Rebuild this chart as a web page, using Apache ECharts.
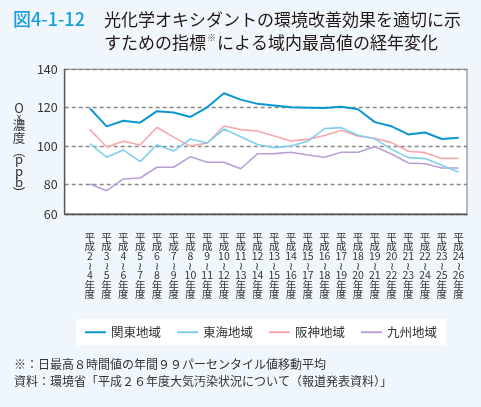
<!DOCTYPE html>
<html>
<head>
<meta charset="utf-8">
<script src="https://cdn.jsdelivr.net/npm/echarts@6/dist/echarts.min.js"></script>
<style>
html,body{margin:0;padding:0;background:#eff7fc;}
#c{width:481px;height:407px;}
</style>
</head>
<body>
<div id="c"></div>
<script>
// ---- data ----
const categories = ['平成2～4年度','平成3～5年度','平成4～6年度','平成5～7年度','平成6～8年度','平成7～9年度','平成8～10年度','平成9～11年度','平成10～12年度','平成11～13年度','平成12～14年度','平成13～15年度','平成14～16年度','平成15～17年度','平成16～18年度','平成17～19年度','平成18～20年度','平成19～21年度','平成20～22年度','平成21～23年度','平成22～24年度','平成23～25年度','平成24～26年度'];
const kanto   = [119.7,110.3,113.2,112.2,118.2,117.5,115.2,120.2,127.5,124.2,122.0,121.2,120.2,120.0,119.8,120.5,119.2,112.5,110.3,106.1,107.1,103.7,104.4];
const tokai   = [101.3,94.2,98.0,91.9,100.7,97.4,103.7,101.6,108.9,104.9,100.8,99.2,100.0,102.5,109.1,109.6,105.7,103.8,98.3,94.0,93.5,90.0,86.5];
const hanshin = [108.7,99.5,102.5,100.6,109.8,104.7,100.0,101.6,110.5,108.6,107.9,105.3,102.7,103.5,105.5,108.2,105.2,104.1,101.8,97.3,96.6,93.6,93.6];
const kyushu  = [80.3,76.8,82.9,83.4,89.0,89.0,94.5,91.6,91.6,88.2,96.0,96.1,96.8,95.4,94.2,96.8,96.8,99.7,95.9,91.2,90.8,88.6,88.6];
const seriesNames = ['関東地域','東海地域','阪神地域','九州地域'];
const yTicks = [60, 80, 100, 120, 140];

// ---- chart ----
const FONT = '"Noto Sans CJK JP","Noto Sans",sans-serif';
const chart = echarts.init(document.getElementById('c'), null, {renderer:'canvas'});
const xData = [''].concat(categories);
const pad = arr => ['-'].concat(arr);

function vLabel(s){
  const m = s.match(/平成(\d+)～(\d+)年度/);
  if(!m) return '';
  return ['平','成',m[1],'≀',m[2],'年','度'].join('\n');
}

const colors = ['#0a96cf','#7fd0ee','#f6a7ad','#b8a0d6'];
const widths = [2,1.6,1.6,1.6];
const datas = [kanto, tokai, hanshin, kyushu];

const yStack = [
  {t:'O', y:108.5, s:13},
  {t:'x', y:116.5, s:9},
  {t:'濃', y:125.5, s:12.5},
  {t:'度', y:138.5, s:12.5},
  {t:'︵', y:151, s:12.5},
  {t:'p', y:159, s:13},
  {t:'p', y:171, s:13},
  {t:'b', y:182, s:13},
  {t:'︶', y:193, s:12.5}
];

chart.setOption({
  backgroundColor: '#eff7fc',
  animation: false,
  textStyle: {fontFamily: FONT},
  grid: {left: 64.7, top: 69.3, right: 14, bottom: 193, show: true, backgroundColor: '#fff', borderColor: '#999', borderWidth: 1.3},
  legend: {
    left: 76, top: 319, padding: [7, 9, 7, 9],
    backgroundColor: '#fff',
    itemWidth: 21, itemHeight: 2, itemGap: 16,
    icon: 'rect',
    textStyle: {fontSize: 12.5, color: '#333', fontFamily: FONT, padding: [0,0,0,0]},
    data: seriesNames
  },
  xAxis: {
    type: 'category', data: xData, boundaryGap: true,
    axisLine: {lineStyle: {color: '#555', width: 1.3}},
    axisTick: {inside: true, length: 5, interval: 0, lineStyle: {color: '#555', width: 1}},
    axisLabel: {interval: 0, formatter: vLabel, fontSize: 10.5, lineHeight: 9.6, margin: 18, color: '#333', fontFamily: FONT},
    splitLine: {show: false}
  },
  yAxis: {
    type: 'value', min: 64.64, max: 140, minInterval: 20, maxInterval: 20,
    axisLine: {show: true, lineStyle: {color: '#555', width: 1.3}},
    axisTick: {show: false},
    axisLabel: {fontSize: 12.5, color: '#333', margin: 7, fontFamily: FONT,
      formatter: v => (v < yTicks[1] - 10 ? String(yTicks[0]) : String(v))},
    splitLine: {show: true, lineStyle: {color: '#888', type: [4,3], width: 1.3}}
  },
  series: seriesNames.map((n,i)=>({
    name: n, type: 'line', data: pad(datas[i]), symbol: 'none',
    lineStyle: {color: colors[i], width: widths[i]}, itemStyle: {color: colors[i]},
    z: 10 - i
  })),
  graphic: [
    {type:'text', left: 13, top: 10, style:{text:'図4-1-12', fill:'#1a9ed9', font:'500 18px ' + FONT}},
    {type:'text', left: 104, top: 11, style:{text:'光化学オキシダントの環境改善効果を適切に示', fill:'#231815', font:'17px ' + FONT}},
    {type:'text', left: 104, top: 33, style:{
      text:'{a|すための指標}{s|※}{a|による域内最高値の経年変化}', fill:'#231815',
      rich:{a:{fontSize:17, fontFamily:FONT, fill:'#231815', lineHeight:20},
            s:{fontSize:9, fontFamily:FONT, fill:'#555', verticalAlign:'top', lineHeight:20, padding:[0,1,8,1]}}
    }},
    ...yStack.map(o=>({type:'text', x: 19, y: o.y, style:{text:o.t, fill:'#333', font: o.s + 'px ' + FONT, align:'center', verticalAlign:'middle'}})),
    {type:'text', left: 14, top: 358, style:{text:'※：日最高８時間値の年間９９パーセンタイル値移動平均', fill:'#333', font:'12px ' + FONT}},
    {type:'text', left: 14, top: 375, style:{text:'資料：環境省「平成２６年度大気汚染状況について（報道発表資料）」', fill:'#333', font:'12px ' + FONT}}
  ]
});
</script>
</body>
</html>
